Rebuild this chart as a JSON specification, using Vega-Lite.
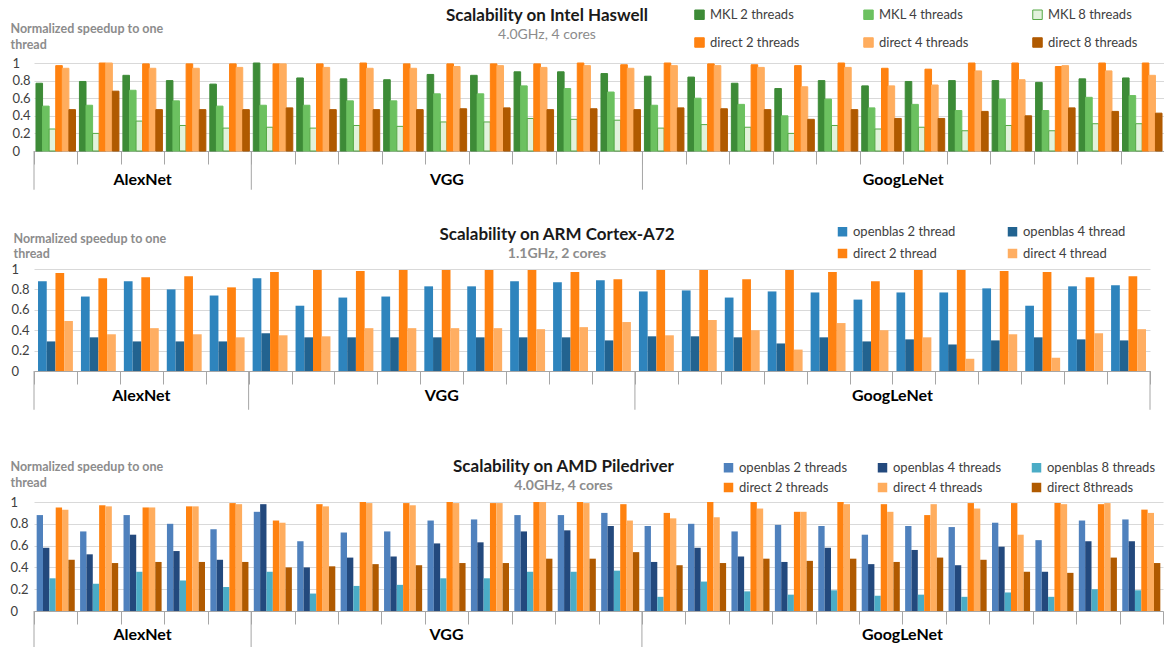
{
  "$schema": "https://vega.github.io/schema/vega-lite/v6.json",
  "padding": {"left": 10, "top": 7, "right": 0, "bottom": 0},
  "background": "white",
  "config": {"view": {"stroke": null}, "font": "Lato", "text": {"font": "Lato"}},
  "datasets": {
    "haswell": [
      {"l":1,"s":"MKL 2 threads","v":0.77},{"l":1,"s":"MKL 4 threads","v":0.51},{"l":1,"s":"MKL 8 threads","v":0.25},{"l":1,"s":"direct 2 threads","v":0.97},{"l":1,"s":"direct 4 threads","v":0.94},{"l":1,"s":"direct 8 threads","v":0.47},
      {"l":2,"s":"MKL 2 threads","v":0.79},{"l":2,"s":"MKL 4 threads","v":0.52},{"l":2,"s":"MKL 8 threads","v":0.20},{"l":2,"s":"direct 2 threads","v":1.0},{"l":2,"s":"direct 4 threads","v":1.0},{"l":2,"s":"direct 8 threads","v":0.68},
      {"l":3,"s":"MKL 2 threads","v":0.86},{"l":3,"s":"MKL 4 threads","v":0.69},{"l":3,"s":"MKL 8 threads","v":0.34},{"l":3,"s":"direct 2 threads","v":0.99},{"l":3,"s":"direct 4 threads","v":0.94},{"l":3,"s":"direct 8 threads","v":0.47},
      {"l":4,"s":"MKL 2 threads","v":0.80},{"l":4,"s":"MKL 4 threads","v":0.57},{"l":4,"s":"MKL 8 threads","v":0.29},{"l":4,"s":"direct 2 threads","v":0.99},{"l":4,"s":"direct 4 threads","v":0.94},{"l":4,"s":"direct 8 threads","v":0.47},
      {"l":5,"s":"MKL 2 threads","v":0.76},{"l":5,"s":"MKL 4 threads","v":0.51},{"l":5,"s":"MKL 8 threads","v":0.26},{"l":5,"s":"direct 2 threads","v":0.99},{"l":5,"s":"direct 4 threads","v":0.95},{"l":5,"s":"direct 8 threads","v":0.47},
      {"l":6,"s":"MKL 2 threads","v":1.0},{"l":6,"s":"MKL 4 threads","v":0.52},{"l":6,"s":"MKL 8 threads","v":0.27},{"l":6,"s":"direct 2 threads","v":0.99},{"l":6,"s":"direct 4 threads","v":0.99},{"l":6,"s":"direct 8 threads","v":0.49},
      {"l":7,"s":"MKL 2 threads","v":0.83},{"l":7,"s":"MKL 4 threads","v":0.52},{"l":7,"s":"MKL 8 threads","v":0.26},{"l":7,"s":"direct 2 threads","v":0.99},{"l":7,"s":"direct 4 threads","v":0.95},{"l":7,"s":"direct 8 threads","v":0.47},
      {"l":8,"s":"MKL 2 threads","v":0.82},{"l":8,"s":"MKL 4 threads","v":0.57},{"l":8,"s":"MKL 8 threads","v":0.29},{"l":8,"s":"direct 2 threads","v":1.0},{"l":8,"s":"direct 4 threads","v":0.94},{"l":8,"s":"direct 8 threads","v":0.47},
      {"l":9,"s":"MKL 2 threads","v":0.81},{"l":9,"s":"MKL 4 threads","v":0.57},{"l":9,"s":"MKL 8 threads","v":0.28},{"l":9,"s":"direct 2 threads","v":0.99},{"l":9,"s":"direct 4 threads","v":0.94},{"l":9,"s":"direct 8 threads","v":0.47},
      {"l":10,"s":"MKL 2 threads","v":0.87},{"l":10,"s":"MKL 4 threads","v":0.65},{"l":10,"s":"MKL 8 threads","v":0.33},{"l":10,"s":"direct 2 threads","v":0.99},{"l":10,"s":"direct 4 threads","v":0.96},{"l":10,"s":"direct 8 threads","v":0.48},
      {"l":11,"s":"MKL 2 threads","v":0.86},{"l":11,"s":"MKL 4 threads","v":0.65},{"l":11,"s":"MKL 8 threads","v":0.33},{"l":11,"s":"direct 2 threads","v":0.99},{"l":11,"s":"direct 4 threads","v":0.97},{"l":11,"s":"direct 8 threads","v":0.49},
      {"l":12,"s":"MKL 2 threads","v":0.90},{"l":12,"s":"MKL 4 threads","v":0.74},{"l":12,"s":"MKL 8 threads","v":0.37},{"l":12,"s":"direct 2 threads","v":0.99},{"l":12,"s":"direct 4 threads","v":0.95},{"l":12,"s":"direct 8 threads","v":0.47},
      {"l":13,"s":"MKL 2 threads","v":0.90},{"l":13,"s":"MKL 4 threads","v":0.71},{"l":13,"s":"MKL 8 threads","v":0.36},{"l":13,"s":"direct 2 threads","v":1.0},{"l":13,"s":"direct 4 threads","v":0.97},{"l":13,"s":"direct 8 threads","v":0.48},
      {"l":14,"s":"MKL 2 threads","v":0.88},{"l":14,"s":"MKL 4 threads","v":0.67},{"l":14,"s":"MKL 8 threads","v":0.35},{"l":14,"s":"direct 2 threads","v":0.98},{"l":14,"s":"direct 4 threads","v":0.94},{"l":14,"s":"direct 8 threads","v":0.47},
      {"l":15,"s":"MKL 2 threads","v":0.85},{"l":15,"s":"MKL 4 threads","v":0.52},{"l":15,"s":"MKL 8 threads","v":0.26},{"l":15,"s":"direct 2 threads","v":1.0},{"l":15,"s":"direct 4 threads","v":0.97},{"l":15,"s":"direct 8 threads","v":0.49},
      {"l":16,"s":"MKL 2 threads","v":0.84},{"l":16,"s":"MKL 4 threads","v":0.60},{"l":16,"s":"MKL 8 threads","v":0.30},{"l":16,"s":"direct 2 threads","v":0.99},{"l":16,"s":"direct 4 threads","v":0.97},{"l":16,"s":"direct 8 threads","v":0.48},
      {"l":17,"s":"MKL 2 threads","v":0.77},{"l":17,"s":"MKL 4 threads","v":0.53},{"l":17,"s":"MKL 8 threads","v":0.27},{"l":17,"s":"direct 2 threads","v":0.98},{"l":17,"s":"direct 4 threads","v":0.95},{"l":17,"s":"direct 8 threads","v":0.47},
      {"l":18,"s":"MKL 2 threads","v":0.71},{"l":18,"s":"MKL 4 threads","v":0.40},{"l":18,"s":"MKL 8 threads","v":0.20},{"l":18,"s":"direct 2 threads","v":0.97},{"l":18,"s":"direct 4 threads","v":0.73},{"l":18,"s":"direct 8 threads","v":0.36},
      {"l":19,"s":"MKL 2 threads","v":0.80},{"l":19,"s":"MKL 4 threads","v":0.59},{"l":19,"s":"MKL 8 threads","v":0.29},{"l":19,"s":"direct 2 threads","v":1.0},{"l":19,"s":"direct 4 threads","v":0.95},{"l":19,"s":"direct 8 threads","v":0.47},
      {"l":20,"s":"MKL 2 threads","v":0.74},{"l":20,"s":"MKL 4 threads","v":0.49},{"l":20,"s":"MKL 8 threads","v":0.25},{"l":20,"s":"direct 2 threads","v":0.94},{"l":20,"s":"direct 4 threads","v":0.74},{"l":20,"s":"direct 8 threads","v":0.37},
      {"l":21,"s":"MKL 2 threads","v":0.79},{"l":21,"s":"MKL 4 threads","v":0.53},{"l":21,"s":"MKL 8 threads","v":0.27},{"l":21,"s":"direct 2 threads","v":0.93},{"l":21,"s":"direct 4 threads","v":0.75},{"l":21,"s":"direct 8 threads","v":0.37},
      {"l":22,"s":"MKL 2 threads","v":0.80},{"l":22,"s":"MKL 4 threads","v":0.46},{"l":22,"s":"MKL 8 threads","v":0.23},{"l":22,"s":"direct 2 threads","v":1.0},{"l":22,"s":"direct 4 threads","v":0.91},{"l":22,"s":"direct 8 threads","v":0.45},
      {"l":23,"s":"MKL 2 threads","v":0.80},{"l":23,"s":"MKL 4 threads","v":0.59},{"l":23,"s":"MKL 8 threads","v":0.29},{"l":23,"s":"direct 2 threads","v":1.0},{"l":23,"s":"direct 4 threads","v":0.81},{"l":23,"s":"direct 8 threads","v":0.40},
      {"l":24,"s":"MKL 2 threads","v":0.78},{"l":24,"s":"MKL 4 threads","v":0.46},{"l":24,"s":"MKL 8 threads","v":0.23},{"l":24,"s":"direct 2 threads","v":0.96},{"l":24,"s":"direct 4 threads","v":0.97},{"l":24,"s":"direct 8 threads","v":0.49},
      {"l":25,"s":"MKL 2 threads","v":0.82},{"l":25,"s":"MKL 4 threads","v":0.61},{"l":25,"s":"MKL 8 threads","v":0.31},{"l":25,"s":"direct 2 threads","v":1.0},{"l":25,"s":"direct 4 threads","v":0.91},{"l":25,"s":"direct 8 threads","v":0.45},
      {"l":26,"s":"MKL 2 threads","v":0.83},{"l":26,"s":"MKL 4 threads","v":0.63},{"l":26,"s":"MKL 8 threads","v":0.31},{"l":26,"s":"direct 2 threads","v":1.0},{"l":26,"s":"direct 4 threads","v":0.86},{"l":26,"s":"direct 8 threads","v":0.43}
    ],
    "arm": [
      {"l":1,"s":"openblas 2 thread","v":0.88},{"l":1,"s":"openblas 4 thread","v":0.29},{"l":1,"s":"direct 2 thread","v":0.96},{"l":1,"s":"direct 4 thread","v":0.49},
      {"l":2,"s":"openblas 2 thread","v":0.73},{"l":2,"s":"openblas 4 thread","v":0.33},{"l":2,"s":"direct 2 thread","v":0.91},{"l":2,"s":"direct 4 thread","v":0.36},
      {"l":3,"s":"openblas 2 thread","v":0.88},{"l":3,"s":"openblas 4 thread","v":0.29},{"l":3,"s":"direct 2 thread","v":0.92},{"l":3,"s":"direct 4 thread","v":0.42},
      {"l":4,"s":"openblas 2 thread","v":0.80},{"l":4,"s":"openblas 4 thread","v":0.29},{"l":4,"s":"direct 2 thread","v":0.93},{"l":4,"s":"direct 4 thread","v":0.36},
      {"l":5,"s":"openblas 2 thread","v":0.74},{"l":5,"s":"openblas 4 thread","v":0.29},{"l":5,"s":"direct 2 thread","v":0.82},{"l":5,"s":"direct 4 thread","v":0.33},
      {"l":6,"s":"openblas 2 thread","v":0.91},{"l":6,"s":"openblas 4 thread","v":0.37},{"l":6,"s":"direct 2 thread","v":0.97},{"l":6,"s":"direct 4 thread","v":0.35},
      {"l":7,"s":"openblas 2 thread","v":0.64},{"l":7,"s":"openblas 4 thread","v":0.33},{"l":7,"s":"direct 2 thread","v":0.99},{"l":7,"s":"direct 4 thread","v":0.34},
      {"l":8,"s":"openblas 2 thread","v":0.72},{"l":8,"s":"openblas 4 thread","v":0.33},{"l":8,"s":"direct 2 thread","v":0.98},{"l":8,"s":"direct 4 thread","v":0.42},
      {"l":9,"s":"openblas 2 thread","v":0.73},{"l":9,"s":"openblas 4 thread","v":0.33},{"l":9,"s":"direct 2 thread","v":0.99},{"l":9,"s":"direct 4 thread","v":0.42},
      {"l":10,"s":"openblas 2 thread","v":0.83},{"l":10,"s":"openblas 4 thread","v":0.33},{"l":10,"s":"direct 2 thread","v":0.99},{"l":10,"s":"direct 4 thread","v":0.42},
      {"l":11,"s":"openblas 2 thread","v":0.83},{"l":11,"s":"openblas 4 thread","v":0.33},{"l":11,"s":"direct 2 thread","v":0.99},{"l":11,"s":"direct 4 thread","v":0.42},
      {"l":12,"s":"openblas 2 thread","v":0.88},{"l":12,"s":"openblas 4 thread","v":0.33},{"l":12,"s":"direct 2 thread","v":0.99},{"l":12,"s":"direct 4 thread","v":0.41},
      {"l":13,"s":"openblas 2 thread","v":0.87},{"l":13,"s":"openblas 4 thread","v":0.33},{"l":13,"s":"direct 2 thread","v":0.97},{"l":13,"s":"direct 4 thread","v":0.43},
      {"l":14,"s":"openblas 2 thread","v":0.89},{"l":14,"s":"openblas 4 thread","v":0.30},{"l":14,"s":"direct 2 thread","v":0.90},{"l":14,"s":"direct 4 thread","v":0.48},
      {"l":15,"s":"openblas 2 thread","v":0.78},{"l":15,"s":"openblas 4 thread","v":0.34},{"l":15,"s":"direct 2 thread","v":0.99},{"l":15,"s":"direct 4 thread","v":0.35},
      {"l":16,"s":"openblas 2 thread","v":0.79},{"l":16,"s":"openblas 4 thread","v":0.34},{"l":16,"s":"direct 2 thread","v":0.99},{"l":16,"s":"direct 4 thread","v":0.50},
      {"l":17,"s":"openblas 2 thread","v":0.72},{"l":17,"s":"openblas 4 thread","v":0.33},{"l":17,"s":"direct 2 thread","v":0.90},{"l":17,"s":"direct 4 thread","v":0.40},
      {"l":18,"s":"openblas 2 thread","v":0.78},{"l":18,"s":"openblas 4 thread","v":0.27},{"l":18,"s":"direct 2 thread","v":0.99},{"l":18,"s":"direct 4 thread","v":0.21},
      {"l":19,"s":"openblas 2 thread","v":0.77},{"l":19,"s":"openblas 4 thread","v":0.33},{"l":19,"s":"direct 2 thread","v":0.97},{"l":19,"s":"direct 4 thread","v":0.47},
      {"l":20,"s":"openblas 2 thread","v":0.70},{"l":20,"s":"openblas 4 thread","v":0.29},{"l":20,"s":"direct 2 thread","v":0.88},{"l":20,"s":"direct 4 thread","v":0.40},
      {"l":21,"s":"openblas 2 thread","v":0.77},{"l":21,"s":"openblas 4 thread","v":0.31},{"l":21,"s":"direct 2 thread","v":0.99},{"l":21,"s":"direct 4 thread","v":0.33},
      {"l":22,"s":"openblas 2 thread","v":0.77},{"l":22,"s":"openblas 4 thread","v":0.26},{"l":22,"s":"direct 2 thread","v":0.99},{"l":22,"s":"direct 4 thread","v":0.12},
      {"l":23,"s":"openblas 2 thread","v":0.81},{"l":23,"s":"openblas 4 thread","v":0.30},{"l":23,"s":"direct 2 thread","v":0.98},{"l":23,"s":"direct 4 thread","v":0.36},
      {"l":24,"s":"openblas 2 thread","v":0.64},{"l":24,"s":"openblas 4 thread","v":0.33},{"l":24,"s":"direct 2 thread","v":0.97},{"l":24,"s":"direct 4 thread","v":0.13},
      {"l":25,"s":"openblas 2 thread","v":0.83},{"l":25,"s":"openblas 4 thread","v":0.31},{"l":25,"s":"direct 2 thread","v":0.92},{"l":25,"s":"direct 4 thread","v":0.37},
      {"l":26,"s":"openblas 2 thread","v":0.84},{"l":26,"s":"openblas 4 thread","v":0.30},{"l":26,"s":"direct 2 thread","v":0.93},{"l":26,"s":"direct 4 thread","v":0.41}
    ],
    "amd": [
      {"l":1,"s":"openblas 2 threads","v":0.88},{"l":1,"s":"openblas 4 threads","v":0.58},{"l":1,"s":"openblas 8 threads","v":0.30},{"l":1,"s":"direct 2 threads","v":0.95},{"l":1,"s":"direct 4 threads","v":0.93},{"l":1,"s":"direct 8threads","v":0.47},
      {"l":2,"s":"openblas 2 threads","v":0.73},{"l":2,"s":"openblas 4 threads","v":0.52},{"l":2,"s":"openblas 8 threads","v":0.25},{"l":2,"s":"direct 2 threads","v":0.97},{"l":2,"s":"direct 4 threads","v":0.96},{"l":2,"s":"direct 8threads","v":0.44},
      {"l":3,"s":"openblas 2 threads","v":0.88},{"l":3,"s":"openblas 4 threads","v":0.70},{"l":3,"s":"openblas 8 threads","v":0.36},{"l":3,"s":"direct 2 threads","v":0.95},{"l":3,"s":"direct 4 threads","v":0.95},{"l":3,"s":"direct 8threads","v":0.45},
      {"l":4,"s":"openblas 2 threads","v":0.80},{"l":4,"s":"openblas 4 threads","v":0.55},{"l":4,"s":"openblas 8 threads","v":0.28},{"l":4,"s":"direct 2 threads","v":0.96},{"l":4,"s":"direct 4 threads","v":0.96},{"l":4,"s":"direct 8threads","v":0.45},
      {"l":5,"s":"openblas 2 threads","v":0.75},{"l":5,"s":"openblas 4 threads","v":0.47},{"l":5,"s":"openblas 8 threads","v":0.22},{"l":5,"s":"direct 2 threads","v":0.99},{"l":5,"s":"direct 4 threads","v":0.98},{"l":5,"s":"direct 8threads","v":0.45},
      {"l":6,"s":"openblas 2 threads","v":0.91},{"l":6,"s":"openblas 4 threads","v":0.98},{"l":6,"s":"openblas 8 threads","v":0.36},{"l":6,"s":"direct 2 threads","v":0.83},{"l":6,"s":"direct 4 threads","v":0.81},{"l":6,"s":"direct 8threads","v":0.40},
      {"l":7,"s":"openblas 2 threads","v":0.64},{"l":7,"s":"openblas 4 threads","v":0.40},{"l":7,"s":"openblas 8 threads","v":0.16},{"l":7,"s":"direct 2 threads","v":0.98},{"l":7,"s":"direct 4 threads","v":0.96},{"l":7,"s":"direct 8threads","v":0.41},
      {"l":8,"s":"openblas 2 threads","v":0.72},{"l":8,"s":"openblas 4 threads","v":0.49},{"l":8,"s":"openblas 8 threads","v":0.23},{"l":8,"s":"direct 2 threads","v":1.0},{"l":8,"s":"direct 4 threads","v":0.99},{"l":8,"s":"direct 8threads","v":0.43},
      {"l":9,"s":"openblas 2 threads","v":0.73},{"l":9,"s":"openblas 4 threads","v":0.50},{"l":9,"s":"openblas 8 threads","v":0.24},{"l":9,"s":"direct 2 threads","v":0.99},{"l":9,"s":"direct 4 threads","v":0.97},{"l":9,"s":"direct 8threads","v":0.42},
      {"l":10,"s":"openblas 2 threads","v":0.83},{"l":10,"s":"openblas 4 threads","v":0.62},{"l":10,"s":"openblas 8 threads","v":0.30},{"l":10,"s":"direct 2 threads","v":1.0},{"l":10,"s":"direct 4 threads","v":0.99},{"l":10,"s":"direct 8threads","v":0.44},
      {"l":11,"s":"openblas 2 threads","v":0.84},{"l":11,"s":"openblas 4 threads","v":0.63},{"l":11,"s":"openblas 8 threads","v":0.30},{"l":11,"s":"direct 2 threads","v":0.99},{"l":11,"s":"direct 4 threads","v":0.99},{"l":11,"s":"direct 8threads","v":0.44},
      {"l":12,"s":"openblas 2 threads","v":0.88},{"l":12,"s":"openblas 4 threads","v":0.73},{"l":12,"s":"openblas 8 threads","v":0.36},{"l":12,"s":"direct 2 threads","v":1.0},{"l":12,"s":"direct 4 threads","v":1.0},{"l":12,"s":"direct 8threads","v":0.48},
      {"l":13,"s":"openblas 2 threads","v":0.88},{"l":13,"s":"openblas 4 threads","v":0.74},{"l":13,"s":"openblas 8 threads","v":0.36},{"l":13,"s":"direct 2 threads","v":1.0},{"l":13,"s":"direct 4 threads","v":0.99},{"l":13,"s":"direct 8threads","v":0.48},
      {"l":14,"s":"openblas 2 threads","v":0.90},{"l":14,"s":"openblas 4 threads","v":0.78},{"l":14,"s":"openblas 8 threads","v":0.37},{"l":14,"s":"direct 2 threads","v":0.98},{"l":14,"s":"direct 4 threads","v":0.83},{"l":14,"s":"direct 8threads","v":0.54},
      {"l":15,"s":"openblas 2 threads","v":0.78},{"l":15,"s":"openblas 4 threads","v":0.45},{"l":15,"s":"openblas 8 threads","v":0.13},{"l":15,"s":"direct 2 threads","v":0.90},{"l":15,"s":"direct 4 threads","v":0.85},{"l":15,"s":"direct 8threads","v":0.42},
      {"l":16,"s":"openblas 2 threads","v":0.80},{"l":16,"s":"openblas 4 threads","v":0.58},{"l":16,"s":"openblas 8 threads","v":0.27},{"l":16,"s":"direct 2 threads","v":1.0},{"l":16,"s":"direct 4 threads","v":0.86},{"l":16,"s":"direct 8threads","v":0.44},
      {"l":17,"s":"openblas 2 threads","v":0.73},{"l":17,"s":"openblas 4 threads","v":0.50},{"l":17,"s":"openblas 8 threads","v":0.18},{"l":17,"s":"direct 2 threads","v":1.0},{"l":17,"s":"direct 4 threads","v":0.94},{"l":17,"s":"direct 8threads","v":0.48},
      {"l":18,"s":"openblas 2 threads","v":0.79},{"l":18,"s":"openblas 4 threads","v":0.45},{"l":18,"s":"openblas 8 threads","v":0.15},{"l":18,"s":"direct 2 threads","v":0.91},{"l":18,"s":"direct 4 threads","v":0.91},{"l":18,"s":"direct 8threads","v":0.46},
      {"l":19,"s":"openblas 2 threads","v":0.78},{"l":19,"s":"openblas 4 threads","v":0.58},{"l":19,"s":"openblas 8 threads","v":0.19},{"l":19,"s":"direct 2 threads","v":1.0},{"l":19,"s":"direct 4 threads","v":0.98},{"l":19,"s":"direct 8threads","v":0.48},
      {"l":20,"s":"openblas 2 threads","v":0.70},{"l":20,"s":"openblas 4 threads","v":0.43},{"l":20,"s":"openblas 8 threads","v":0.14},{"l":20,"s":"direct 2 threads","v":0.98},{"l":20,"s":"direct 4 threads","v":0.91},{"l":20,"s":"direct 8threads","v":0.45},
      {"l":21,"s":"openblas 2 threads","v":0.78},{"l":21,"s":"openblas 4 threads","v":0.56},{"l":21,"s":"openblas 8 threads","v":0.15},{"l":21,"s":"direct 2 threads","v":0.88},{"l":21,"s":"direct 4 threads","v":0.98},{"l":21,"s":"direct 8threads","v":0.49},
      {"l":22,"s":"openblas 2 threads","v":0.77},{"l":22,"s":"openblas 4 threads","v":0.42},{"l":22,"s":"openblas 8 threads","v":0.13},{"l":22,"s":"direct 2 threads","v":0.99},{"l":22,"s":"direct 4 threads","v":0.94},{"l":22,"s":"direct 8threads","v":0.47},
      {"l":23,"s":"openblas 2 threads","v":0.81},{"l":23,"s":"openblas 4 threads","v":0.59},{"l":23,"s":"openblas 8 threads","v":0.17},{"l":23,"s":"direct 2 threads","v":0.99},{"l":23,"s":"direct 4 threads","v":0.70},{"l":23,"s":"direct 8threads","v":0.36},
      {"l":24,"s":"openblas 2 threads","v":0.65},{"l":24,"s":"openblas 4 threads","v":0.36},{"l":24,"s":"openblas 8 threads","v":0.13},{"l":24,"s":"direct 2 threads","v":0.99},{"l":24,"s":"direct 4 threads","v":0.98},{"l":24,"s":"direct 8threads","v":0.35},
      {"l":25,"s":"openblas 2 threads","v":0.83},{"l":25,"s":"openblas 4 threads","v":0.64},{"l":25,"s":"openblas 8 threads","v":0.20},{"l":25,"s":"direct 2 threads","v":0.98},{"l":25,"s":"direct 4 threads","v":0.99},{"l":25,"s":"direct 8threads","v":0.49},
      {"l":26,"s":"openblas 2 threads","v":0.84},{"l":26,"s":"openblas 4 threads","v":0.64},{"l":26,"s":"openblas 8 threads","v":0.19},{"l":26,"s":"direct 2 threads","v":0.93},{"l":26,"s":"direct 4 threads","v":0.90},{"l":26,"s":"direct 8threads","v":0.44}
    ]
  },
  "spacing": 47,
  "resolve": {"scale": {"color": "independent", "stroke": "independent", "xOffset": "independent"}, "legend": {"color": "independent", "stroke": "independent"}},
  "vconcat": [
    {
      "spacing": 34,
      "resolve": {"scale": {"color": "independent", "stroke": "independent", "xOffset": "independent"}, "legend": {"color": "independent", "stroke": "independent"}},
      "vconcat": [
        {
          "width": 1130, "height": 88,
          "resolve": {"scale": {"y": "independent"}, "axis": {"y": "independent"}},
          "title": {"text": "Scalability on Intel Haswell", "subtitle": "4.0GHz, 4 cores", "font": "Lato", "fontSize": 17, "fontWeight": "bold", "color": "#1a1a1a", "subtitleFont": "Lato", "subtitleFontSize": 14, "subtitleColor": "#8c8c8c", "subtitleFontWeight": "normal", "subtitlePadding": 3, "anchor": "middle", "frame": "group", "dx": -52, "dy": 51, "offset": 16},
          "layer": [
            {
              "data": {"name": "haswell"},
              "mark": {"type": "bar", "strokeWidth": 1},
              "encoding": {
                "x": {"field": "l", "type": "ordinal", "scale": {"domain": [1,2,3,4,5,6,7,8,9,10,11,12,13,14,15,16,17,18,19,20,21,22,23,24,25,26], "paddingInner": 0, "paddingOuter": 0}, "axis": {"labels": false, "ticks": true, "tickBand": "extent", "tickSize": 13, "tickColor": "#a6a6a6", "domainColor": "#a6a6a6", "title": null, "grid": false}},
                "xOffset": {"field": "s", "type": "nominal", "sort": ["MKL 2 threads","MKL 4 threads","MKL 8 threads","direct 2 threads","direct 4 threads","direct 8 threads"], "scale": {"paddingInner": 0, "paddingOuter": 0.3}},
                "y": {"field": "v", "type": "quantitative", "scale": {"domain": [0, 1], "nice": false}, "axis": {"values": [0,0.2,0.4,0.6,0.8,1], "format": "~g", "labelOverlap": false, "domain": false, "ticks": false, "tickSize": 0, "labelAlign": "left", "labelPadding": 22, "labelFontSize": 13, "labelColor": "#404040", "labelFont": "Lato", "gridColor": "#d9d9d9", "title": ["Normalized speedup to one", "thread"], "titleAngle": 0, "titleAlign": "left", "titleBaseline": "top", "titleX": -24, "titleY": -41, "titleColor": "#8c8c8c", "titleFont": "Lato", "titleFontSize": 12.5, "titleFontWeight": "bold", "titleLineHeight": 16}},
                "color": {"field": "s", "type": "nominal", "scale": {"domain": ["MKL 2 threads","direct 2 threads","MKL 4 threads","direct 4 threads","MKL 8 threads","direct 8 threads"], "range": ["#3d8b37","#ff8210","#6cc160","#ffad5e","#e2f2dc","#b05a00"]}, "legend": {"orient": "none", "legendX": 659, "legendY": -55, "columns": 3, "title": null, "symbolType": "square", "symbolSize": 90, "symbolStrokeWidth": 1, "labelFont": "Lato", "labelFontSize": 13, "labelColor": "#404040", "labelOffset": 4, "columnPadding": 61, "rowPadding": 13, "gridAlign": "all"}},
                "stroke": {"field": "s", "type": "nominal", "scale": {"domain": ["MKL 2 threads","direct 2 threads","MKL 4 threads","direct 4 threads","MKL 8 threads","direct 8 threads"], "range": ["#3d8b37","#ff8210","#6cc160","#ffad5e","#55a845","#b05a00"]}, "legend": {"orient": "none", "legendX": 659, "legendY": -55, "columns": 3, "title": null, "symbolType": "square", "symbolSize": 90, "symbolStrokeWidth": 1, "labelFont": "Lato", "labelFontSize": 13, "labelColor": "#404040", "labelOffset": 4, "columnPadding": 61, "rowPadding": 13, "gridAlign": "all"}}
              }
            },
            {
              "data": {"values": [{"l": 1}, {"l": 6}, {"l": 15}]},
              "mark": {"type": "rule", "color": "#a6a6a6", "strokeWidth": 1},
              "encoding": {"x": {"field": "l", "type": "ordinal", "bandPosition": 0}, "y": {"datum": 0, "scale": {"domain": [0, 1], "nice": false}, "axis": null}, "y2": {"datum": -0.44}}
            },
            {
              "data": {"values": [{"l": 3, "t": "AlexNet"}, {"l": 10, "t": "VGG"}]},
              "mark": {"type": "text", "font": "Lato", "fontSize": 16, "fontWeight": "bold", "color": "#000000", "baseline": "middle"},
              "encoding": {"x": {"field": "l", "type": "ordinal", "bandPosition": 0.5}, "y": {"datum": -0.33, "scale": {"domain": [0, 1], "nice": false}, "axis": null}, "text": {"field": "t"}}
            },
            {
              "data": {"values": [{"l": 21, "t": "GoogLeNet"}]},
              "mark": {"type": "text", "font": "Lato", "fontSize": 16, "fontWeight": "bold", "color": "#000000", "baseline": "middle"},
              "encoding": {"x": {"field": "l", "type": "ordinal", "bandPosition": 0}, "y": {"datum": -0.33, "scale": {"domain": [0, 1], "nice": false}, "axis": null}, "text": {"field": "t"}}
            }
          ]
        },
        {
          "width": 1116, "height": 102,
          "resolve": {"scale": {"y": "independent"}, "axis": {"y": "independent"}},
          "title": {"text": "Scalability on ARM Cortex-A72", "subtitle": "1.1GHz, 2 cores", "font": "Lato", "fontSize": 17, "fontWeight": "bold", "color": "#1a1a1a", "subtitleFont": "Lato", "subtitleFontSize": 14, "subtitleColor": "#8c8c8c", "subtitleFontWeight": "bold", "subtitlePadding": 3, "anchor": "middle", "frame": "group", "dx": -35, "dy": 45, "offset": 8},
          "layer": [
            {
              "data": {"name": "arm"},
              "mark": {"type": "bar", "strokeWidth": 1},
              "encoding": {
                "x": {"field": "l", "type": "ordinal", "scale": {"domain": [1,2,3,4,5,6,7,8,9,10,11,12,13,14,15,16,17,18,19,20,21,22,23,24,25,26], "paddingInner": 0, "paddingOuter": 0}, "axis": {"labels": false, "ticks": true, "tickBand": "extent", "tickSize": 13, "tickColor": "#a6a6a6", "domainColor": "#a6a6a6", "title": null, "grid": false}},
                "xOffset": {"field": "s", "type": "nominal", "sort": ["openblas 2 thread","openblas 4 thread","direct 2 thread","direct 4 thread"], "scale": {"paddingInner": 0, "paddingOuter": 0.46}},
                "y": {"field": "v", "type": "quantitative", "scale": {"domain": [0, 1], "nice": false}, "axis": {"values": [0,0.2,0.4,0.6,0.8,1], "format": "~g", "labelOverlap": false, "domain": false, "ticks": false, "tickSize": 0, "labelAlign": "left", "labelPadding": 23, "labelFontSize": 13, "labelColor": "#404040", "labelFont": "Lato", "gridColor": "#d9d9d9", "title": ["Normalized speedup to one", "thread"], "titleAngle": 0, "titleAlign": "left", "titleBaseline": "top", "titleX": -21, "titleY": -37, "titleColor": "#8c8c8c", "titleFont": "Lato", "titleFontSize": 12.5, "titleFontWeight": "bold", "titleLineHeight": 15}},
                "color": {"field": "s", "type": "nominal", "scale": {"domain": ["openblas 2 thread","direct 2 thread","openblas 4 thread","direct 4 thread"], "range": ["#2e84bd","#ff8210","#226390","#ffae62"]}, "legend": {"orient": "none", "legendX": 802, "legendY": -44, "columns": 2, "title": null, "symbolType": "square", "symbolSize": 90, "labelFont": "Lato", "labelFontSize": 13, "labelColor": "#404040", "labelOffset": 4, "columnPadding": 50, "rowPadding": 8, "gridAlign": "all"}}
              }
            },
            {
              "data": {"values": [{"l": 1}, {"l": 6}, {"l": 15}]},
              "mark": {"type": "rule", "color": "#a6a6a6", "strokeWidth": 1},
              "encoding": {"x": {"field": "l", "type": "ordinal", "bandPosition": 0}, "y": {"datum": 0, "scale": {"domain": [0, 1], "nice": false}, "axis": null}, "y2": {"datum": -0.38}}
            },
            {
              "data": {"values": [{"l": 26}]},
              "mark": {"type": "rule", "color": "#a6a6a6", "strokeWidth": 1},
              "encoding": {"x": {"field": "l", "type": "ordinal", "bandPosition": 1}, "y": {"datum": 0, "scale": {"domain": [0, 1], "nice": false}, "axis": null}, "y2": {"datum": -0.38}}
            },
            {
              "data": {"values": [{"l": 3, "t": "AlexNet"}, {"l": 10, "t": "VGG"}]},
              "mark": {"type": "text", "font": "Lato", "fontSize": 16, "fontWeight": "bold", "color": "#000000", "baseline": "middle"},
              "encoding": {"x": {"field": "l", "type": "ordinal", "bandPosition": 0.5}, "y": {"datum": -0.245, "scale": {"domain": [0, 1], "nice": false}, "axis": null}, "text": {"field": "t"}}
            },
            {
              "data": {"values": [{"l": 21, "t": "GoogLeNet"}]},
              "mark": {"type": "text", "font": "Lato", "fontSize": 16, "fontWeight": "bold", "color": "#000000", "baseline": "middle"},
              "encoding": {"x": {"field": "l", "type": "ordinal", "bandPosition": 0}, "y": {"datum": -0.245, "scale": {"domain": [0, 1], "nice": false}, "axis": null}, "text": {"field": "t"}}
            }
          ]
        }
      ]
    },
    {
      "width": 1129, "height": 109,
      "resolve": {"scale": {"y": "independent"}, "axis": {"y": "independent"}},
      "title": {"text": "Scalability on AMD Piledriver", "subtitle": "4.0GHz,  4 cores", "font": "Lato", "fontSize": 17, "fontWeight": "bold", "color": "#1a1a1a", "subtitleFont": "Lato", "subtitleFontSize": 14, "subtitleColor": "#8c8c8c", "subtitleFontWeight": "bold", "subtitlePadding": 3, "anchor": "middle", "frame": "group", "dx": -35, "dy": 43, "offset": 9},
      "layer": [
        {
          "data": {"name": "amd"},
          "mark": {"type": "bar", "strokeWidth": 1},
          "encoding": {
            "x": {"field": "l", "type": "ordinal", "scale": {"domain": [1,2,3,4,5,6,7,8,9,10,11,12,13,14,15,16,17,18,19,20,21,22,23,24,25,26], "paddingInner": 0, "paddingOuter": 0}, "axis": {"labels": false, "ticks": true, "tickBand": "extent", "tickSize": 13, "tickColor": "#a6a6a6", "domainColor": "#a6a6a6", "title": null, "grid": false}},
            "xOffset": {"field": "s", "type": "nominal", "sort": ["openblas 2 threads","openblas 4 threads","openblas 8 threads","direct 2 threads","direct 4 threads","direct 8threads"], "scale": {"paddingInner": 0, "paddingOuter": 0.42}},
            "y": {"field": "v", "type": "quantitative", "scale": {"domain": [0, 1], "nice": false}, "axis": {"values": [0,0.2,0.4,0.6,0.8,1], "format": "~g", "labelOverlap": false, "domain": false, "ticks": false, "tickSize": 0, "labelAlign": "left", "labelPadding": 24, "labelFontSize": 13, "labelColor": "#404040", "labelFont": "Lato", "gridColor": "#d9d9d9", "title": ["Normalized speedup to one", "thread"], "titleAngle": 0, "titleAlign": "left", "titleBaseline": "top", "titleX": -24, "titleY": -42, "titleColor": "#8c8c8c", "titleFont": "Lato", "titleFontSize": 12.5, "titleFontWeight": "bold", "titleLineHeight": 16}},
            "color": {"field": "s", "type": "nominal", "scale": {"domain": ["openblas 2 threads","direct 2 threads","openblas 4 threads","direct 4 threads","openblas 8 threads","direct 8threads"], "range": ["#4f81bd","#ff8210","#23497d","#ffad5e","#4bacc6","#b05a00"]}, "legend": {"orient": "none", "legendX": 688, "legendY": -41, "columns": 3, "title": null, "symbolType": "square", "symbolSize": 90, "labelFont": "Lato", "labelFontSize": 13, "labelColor": "#404040", "labelOffset": 4, "columnPadding": 28, "rowPadding": 6, "gridAlign": "all"}}
          }
        },
        {
          "data": {"values": [{"l": 1}, {"l": 6}, {"l": 15}]},
          "mark": {"type": "rule", "color": "#a6a6a6", "strokeWidth": 1},
          "encoding": {"x": {"field": "l", "type": "ordinal", "bandPosition": 0}, "y": {"datum": 0, "scale": {"domain": [0, 1], "nice": false}, "axis": null}, "y2": {"datum": -0.36}}
        },
        {
          "data": {"values": [{"l": 3, "t": "AlexNet"}, {"l": 10, "t": "VGG"}]},
          "mark": {"type": "text", "font": "Lato", "fontSize": 16, "fontWeight": "bold", "color": "#000000", "baseline": "middle"},
          "encoding": {"x": {"field": "l", "type": "ordinal", "bandPosition": 0.5}, "y": {"datum": -0.22, "scale": {"domain": [0, 1], "nice": false}, "axis": null}, "text": {"field": "t"}}
        },
        {
          "data": {"values": [{"l": 21, "t": "GoogLeNet"}]},
          "mark": {"type": "text", "font": "Lato", "fontSize": 16, "fontWeight": "bold", "color": "#000000", "baseline": "middle"},
          "encoding": {"x": {"field": "l", "type": "ordinal", "bandPosition": 0}, "y": {"datum": -0.22, "scale": {"domain": [0, 1], "nice": false}, "axis": null}, "text": {"field": "t"}}
        }
      ]
    }
  ]
}
